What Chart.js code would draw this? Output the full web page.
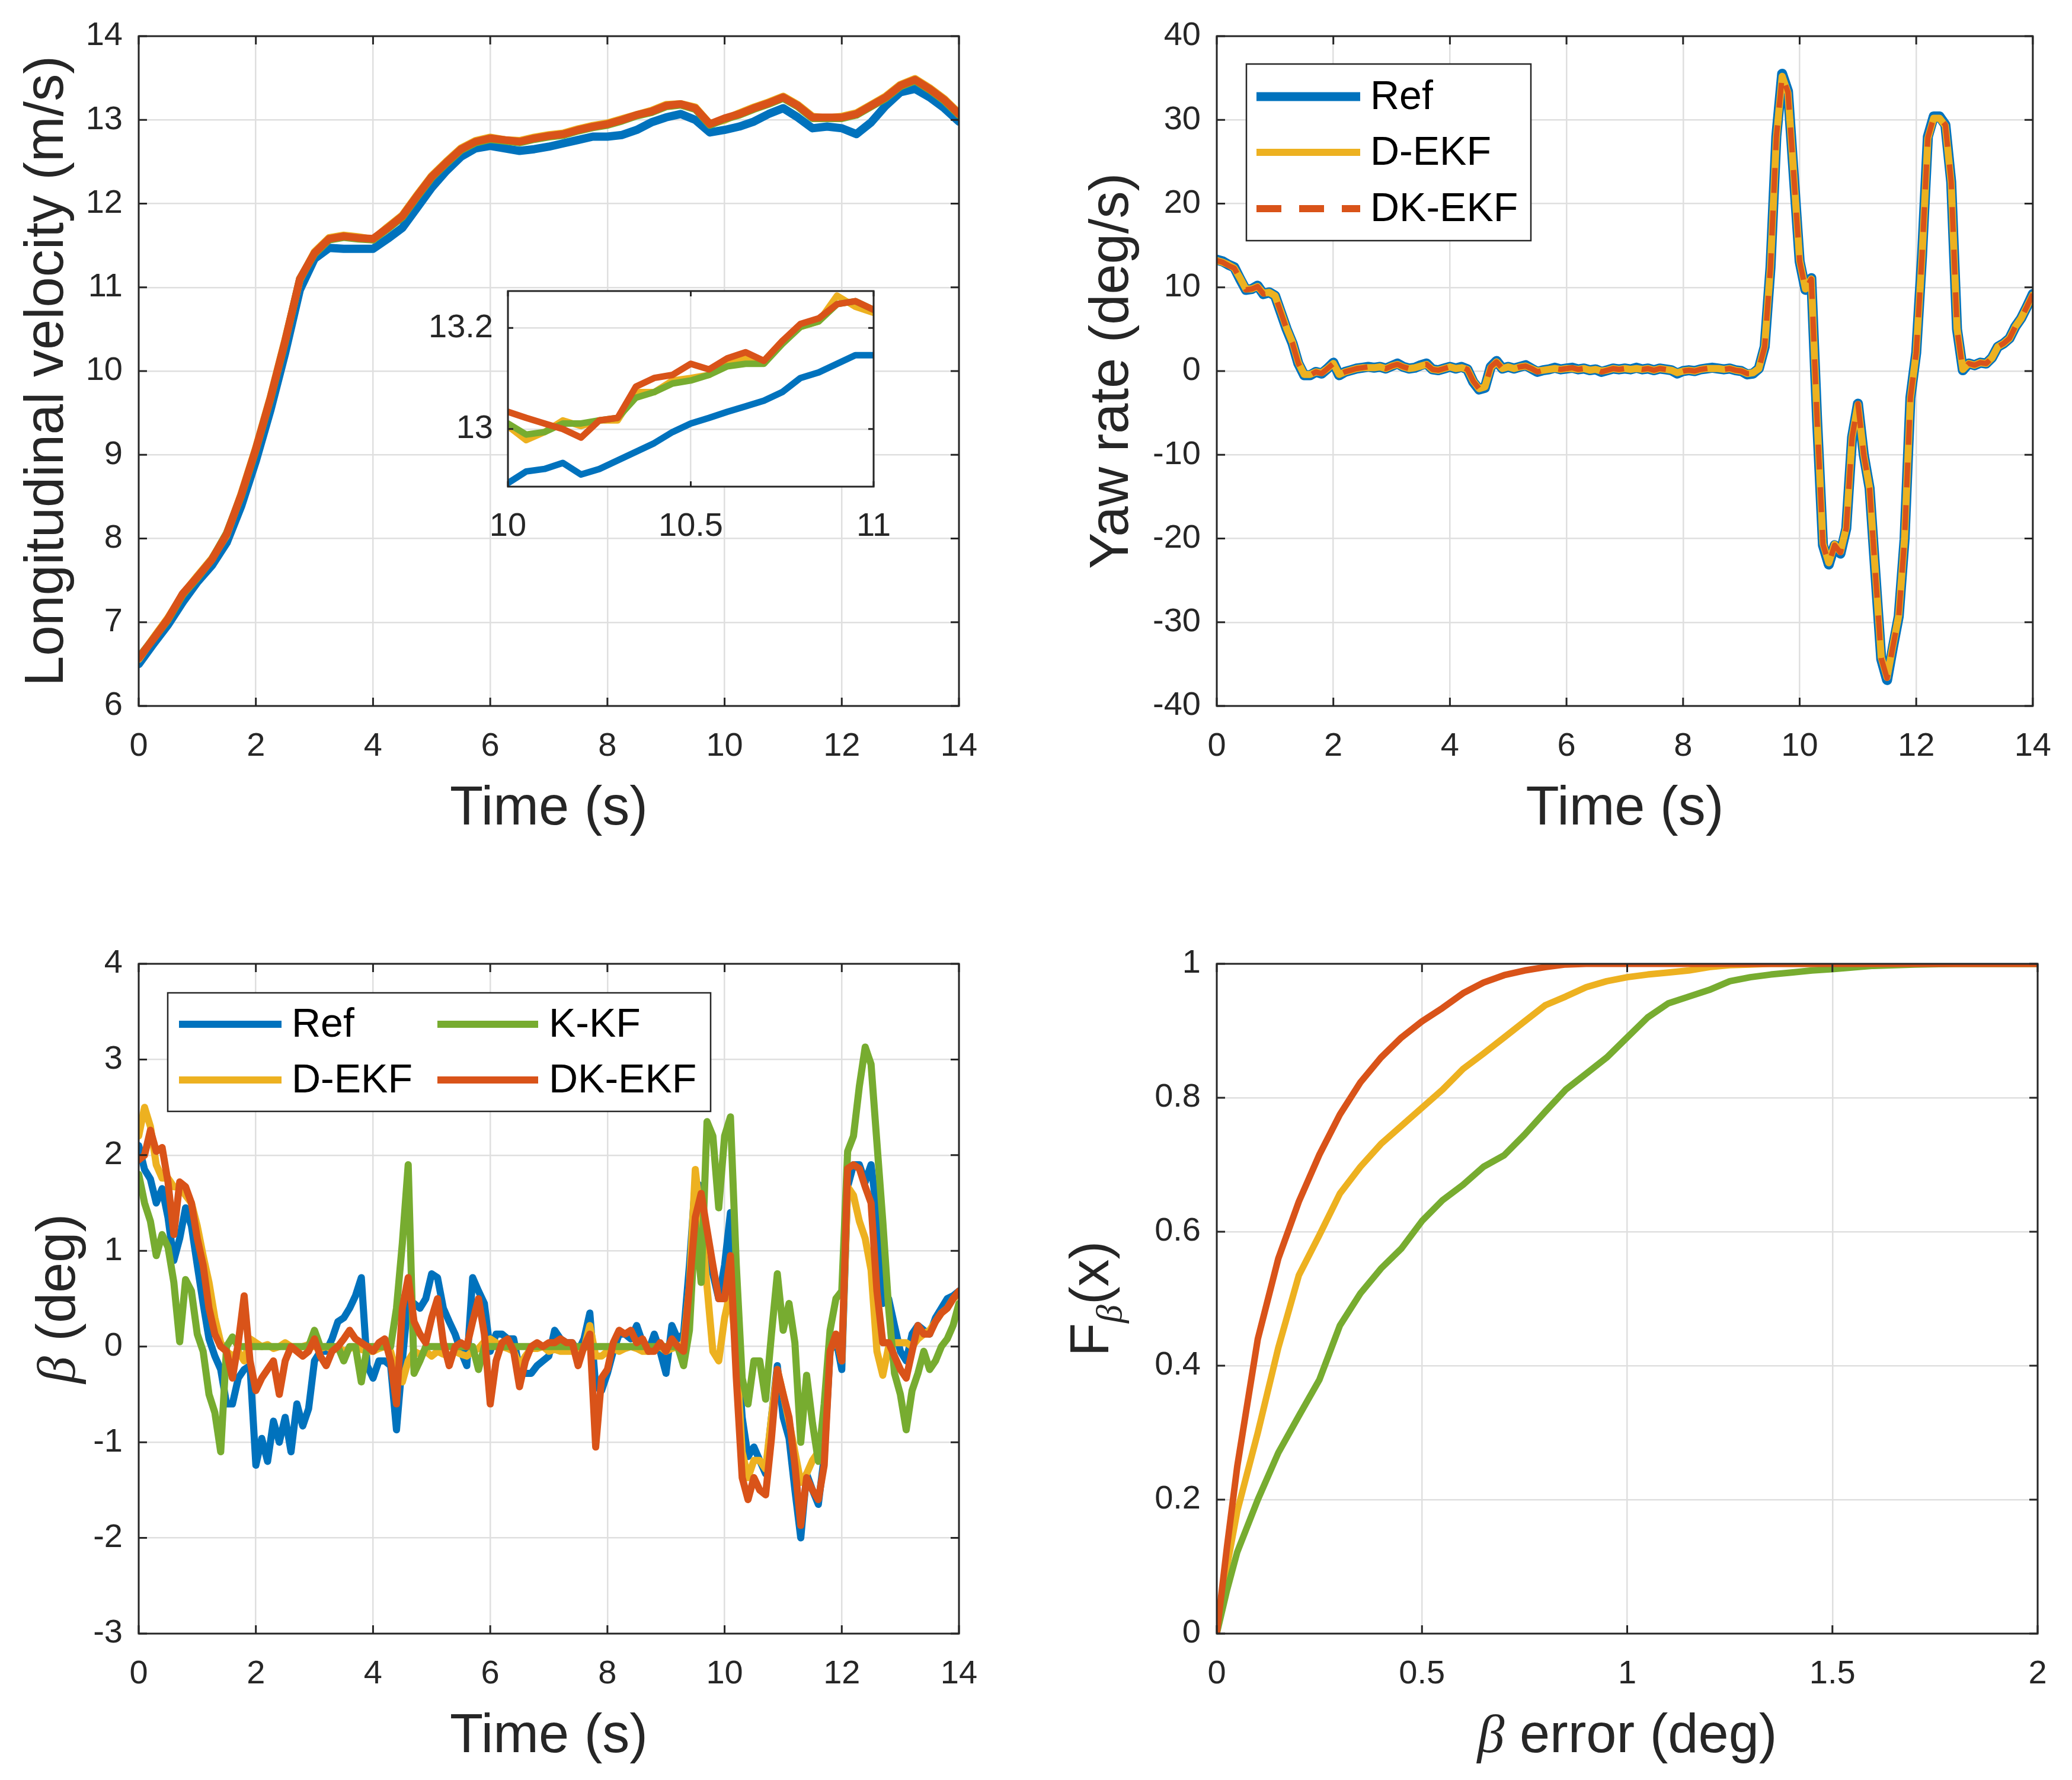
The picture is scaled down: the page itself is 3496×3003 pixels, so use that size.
<!DOCTYPE html>
<html>
<head>
<meta charset="utf-8">
<script src="https://cdn.jsdelivr.net/npm/chart.js@4.4.1/dist/chart.umd.min.js"></script>
<style>
html, body { margin: 0; padding: 0; background: #fff; }
#page { position: relative; width: 3496px; height: 3003px; background: #fff; overflow: hidden; }
.cell { position: absolute; }
</style>
</head>
<body>
<div id="page">
  <div class="cell" style="left:0;top:0;width:1748px;height:1500px"><canvas id="cVel" width="1748" height="1500"></canvas></div>
  <div class="cell" style="left:650px;top:430px;width:900px;height:520px"><canvas id="cZoom" width="900" height="520"></canvas></div>
  <div class="cell" style="left:1748px;top:0;width:1748px;height:1500px"><canvas id="cYaw" width="1748" height="1500"></canvas></div>
  <div class="cell" style="left:0;top:1500px;width:1748px;height:1503px"><canvas id="cBeta" width="1748" height="1503"></canvas></div>
  <div class="cell" style="left:1748px;top:1500px;width:1748px;height:1503px"><canvas id="cCdf" width="1748" height="1503"></canvas></div>
</div>
<script>
// ---- data ----
var seriesNames = ['Ref', 'D-EKF', 'K-KF', 'DK-EKF'];

// longitudinal velocity (m/s), every 0.25 s
var velTime = [];
for (var i = 0; i <= 56; i++) velTime.push(i * 0.25);
var velRef = [6.5, 6.74, 6.97, 7.24, 7.48, 7.68, 7.95, 8.39, 8.93, 9.54, 10.22, 10.97,
  11.34, 11.47, 11.46, 11.46, 11.46, 11.58, 11.71, 11.95, 12.19, 12.39, 12.56, 12.66,
  12.69, 12.66, 12.63, 12.65, 12.68, 12.72, 12.76, 12.8, 12.8, 12.82, 12.88, 12.97,
  13.03, 13.07, 13.0, 12.85, 12.88, 12.92, 12.98, 13.07, 13.14, 13.03, 12.9, 12.92,
  12.9, 12.83, 12.97, 13.17, 13.33, 13.37, 13.27, 13.14, 12.98];
var velDEKF = [6.56, 6.81, 7.05, 7.33, 7.55, 7.76, 8.04, 8.53, 9.08, 9.69, 10.37, 11.09,
  11.42, 11.59, 11.62, 11.6, 11.57, 11.72, 11.86, 12.1, 12.33, 12.5, 12.66, 12.75,
  12.79, 12.76, 12.75, 12.79, 12.82, 12.84, 12.89, 12.93, 12.96, 13.01, 13.06, 13.11,
  13.18, 13.19, 13.15, 12.95, 13.0, 13.08, 13.15, 13.21, 13.28, 13.18, 13.04, 13.02,
  13.04, 13.08, 13.18, 13.28, 13.42, 13.49, 13.38, 13.25, 13.08];
var velKKF = [6.58, 6.8, 7.03, 7.33, 7.53, 7.75, 8.06, 8.51, 9.06, 9.67, 10.35, 11.1,
  11.4, 11.57, 11.6, 11.58, 11.57, 11.7, 11.84, 12.08, 12.31, 12.48, 12.64, 12.73,
  12.77, 12.75, 12.73, 12.77, 12.8, 12.82, 12.87, 12.91, 12.94, 12.99, 13.05, 13.09,
  13.16, 13.18, 13.13, 12.94, 13.01, 13.06, 13.13, 13.19, 13.26, 13.16, 13.02, 13.02,
  13.02, 13.06, 13.16, 13.26, 13.4, 13.47, 13.36, 13.23, 13.06];
var velDKEKF = [6.57, 6.8, 7.04, 7.34, 7.54, 7.75, 8.05, 8.52, 9.07, 9.68, 10.36, 11.1,
  11.41, 11.58, 11.61, 11.59, 11.58, 11.71, 11.85, 12.09, 12.32, 12.49, 12.65, 12.74,
  12.78, 12.76, 12.74, 12.78, 12.81, 12.83, 12.88, 12.92, 12.95, 13.0, 13.06, 13.1,
  13.17, 13.19, 13.14, 12.95, 13.02, 13.07, 13.14, 13.2, 13.27, 13.17, 13.03, 13.03,
  13.03, 13.07, 13.17, 13.27, 13.41, 13.48, 13.37, 13.24, 13.07];

// zoomed inset, 10 s to 11 s every 0.05 s
var zoomTime = [];
for (var i = 0; i <= 20; i++) zoomTime.push(10 + i * 0.05);
var zoomRef = [12.893, 12.916, 12.921, 12.933, 12.91, 12.921, 12.938, 12.955, 12.972, 12.994, 13.011,
  13.022, 13.034, 13.045, 13.056, 13.073, 13.101, 13.112, 13.129, 13.146, 13.146];
var zoomDEKF = [13.006, 12.978, 12.994, 13.017, 13.006, 13.017, 13.017, 13.073, 13.073, 13.096, 13.101,
  13.107, 13.129, 13.14, 13.135, 13.174, 13.202, 13.213, 13.264, 13.242, 13.23];
var zoomKKF = [13.011, 12.989, 12.994, 13.011, 13.011, 13.017, 13.022, 13.062, 13.073, 13.09, 13.096,
  13.107, 13.124, 13.129, 13.129, 13.168, 13.202, 13.213, 13.247, 13.253, 13.236];
var zoomDKEKF = [13.034, 13.022, 13.011, 13.0, 12.983, 13.017, 13.022, 13.084, 13.101, 13.107, 13.129,
  13.118, 13.14, 13.152, 13.135, 13.174, 13.208, 13.219, 13.247, 13.253, 13.236];

// yaw rate (deg/s) and sideslip beta (deg), every 0.1 s
var time = [];
for (var i = 0; i <= 140; i++) time.push(i / 10);
var yawRef = [13.3, 13.1, 12.7, 12.4, 11.0, 9.7, 9.8, 10.2, 9.2, 9.4,
  9.0, 7.0, 5.0, 3.3, 0.9, -0.5, -0.5, -0.1, -0.3, 0.3,
  1.0, -0.5, -0.1, 0.1, 0.3, 0.4, 0.5, 0.4, 0.5, 0.3,
  0.6, 0.9, 0.5, 0.3, 0.4, 0.7, 0.9, 0.2, 0.1, 0.3,
  0.5, 0.3, 0.5, 0.2, -1.3, -2.2, -2.0, 0.5, 1.2, 0.3,
  0.5, 0.3, 0.5, 0.7, 0.3, -0.1, 0.1, 0.2, 0.4, 0.2,
  0.3, 0.4, 0.2, 0.3, 0.1, 0.2, -0.1, 0.1, 0.3, 0.2,
  0.3, 0.2, 0.4, 0.2, 0.3, 0.1, 0.3, 0.2, 0.1, -0.3,
  0.0, 0.1, 0.0, 0.2, 0.3, 0.4, 0.3, 0.2, 0.3, 0.1,
  0.0, -0.4, -0.3, 0.3, 2.9, 12.4, 28.0, 35.5, 33.4, 23.3,
  13.1, 9.7, 11.1, -5.9, -20.8, -23.1, -20.8, -21.8, -18.8, -7.9,
  -3.9, -10.0, -14.0, -24.2, -34.4, -36.9, -33.0, -29.3, -20.1, -3.2,
  2.2, 13.8, 28.0, 30.4, 30.4, 29.4, 22.6, 5.0, 0.1, 0.9,
  0.7, 1.0, 0.9, 1.6, 2.9, 3.3, 3.9, 5.3, 6.3, 7.7,
  9.2];
var yawDEKF = [13.2, 13.0, 12.7, 12.3, 11.1, 9.8, 9.8, 10.1, 9.3, 9.4,
  9.0, 7.1, 5.1, 3.4, 1.0, -0.4, -0.4, -0.1, -0.2, 0.3,
  0.9, -0.4, -0.1, 0.1, 0.3, 0.4, 0.4, 0.4, 0.5, 0.3,
  0.6, 0.8, 0.5, 0.3, 0.4, 0.6, 0.8, 0.2, 0.1, 0.3,
  0.5, 0.3, 0.4, 0.2, -1.2, -2.1, -1.9, 0.4, 1.1, 0.3,
  0.5, 0.3, 0.5, 0.6, 0.3, 0.0, 0.1, 0.2, 0.3, 0.2,
  0.3, 0.3, 0.2, 0.3, 0.1, 0.2, 0.0, 0.1, 0.3, 0.2,
  0.3, 0.2, 0.3, 0.2, 0.3, 0.1, 0.3, 0.2, 0.1, -0.2,
  0.0, 0.1, 0.0, 0.2, 0.3, 0.3, 0.3, 0.2, 0.3, 0.1,
  0.0, -0.3, -0.2, 0.3, 3.0, 12.5, 27.8, 35.2, 33.2, 23.4,
  13.2, 9.8, 11.0, -5.8, -20.6, -22.9, -20.7, -21.6, -18.7, -7.9,
  -4.0, -10.0, -14.0, -24.1, -34.2, -36.6, -32.8, -29.2, -20.0, -3.3,
  2.2, 13.7, 27.8, 30.2, 30.2, 29.3, 22.5, 5.1, 0.2, 0.9,
  0.7, 1.0, 0.9, 1.6, 2.9, 3.3, 3.9, 5.3, 6.3, 7.7,
  9.1];
var yawDKEKF = [13.2, 13.0, 12.6, 12.3, 11.0, 9.7, 9.8, 10.1, 9.2, 9.4,
  9.0, 7.0, 5.0, 3.3, 0.9, -0.4, -0.5, -0.1, -0.3, 0.3,
  0.9, -0.4, -0.1, 0.1, 0.3, 0.4, 0.5, 0.4, 0.5, 0.3,
  0.6, 0.8, 0.5, 0.3, 0.4, 0.7, 0.8, 0.2, 0.1, 0.3,
  0.5, 0.3, 0.5, 0.2, -1.2, -2.1, -2.0, 0.5, 1.1, 0.3,
  0.5, 0.3, 0.5, 0.6, 0.3, -0.1, 0.1, 0.2, 0.3, 0.2,
  0.3, 0.4, 0.2, 0.3, 0.1, 0.2, -0.1, 0.1, 0.3, 0.2,
  0.3, 0.2, 0.3, 0.2, 0.3, 0.1, 0.3, 0.2, 0.1, -0.2,
  0.0, 0.1, 0.0, 0.2, 0.3, 0.4, 0.3, 0.2, 0.3, 0.1,
  0.0, -0.3, -0.3, 0.3, 2.9, 12.4, 27.9, 35.3, 33.3, 23.3,
  13.1, 9.7, 11.0, -5.9, -20.7, -23.0, -20.8, -21.7, -18.8, -7.9,
  -3.9, -10.0, -14.0, -24.2, -34.3, -36.7, -32.9, -29.3, -20.1, -3.2,
  2.2, 13.8, 27.9, 30.3, 30.3, 29.4, 22.6, 5.0, 0.1, 0.9,
  0.7, 1.0, 0.9, 1.6, 2.9, 3.3, 3.9, 5.3, 6.3, 7.7,
  9.2];

var betaRef = [2.1, 1.85, 1.75, 1.5, 1.65, 1.35, 0.9, 1.13, 1.45, 1.26,
  0.85, 0.45, 0.08, -0.1, -0.24, -0.6, -0.6, -0.33, -0.24, -0.2,
  -1.24, -0.96, -1.2, -0.78, -1.0, -0.74, -1.1, -0.6, -0.83, -0.65,
  -0.15, -0.05, -0.05, 0.08, 0.26, 0.3, 0.4, 0.53, 0.72, -0.2,
  -0.33, -0.15, -0.15, -0.2, -0.87, -0.15, 0.5, 0.45, 0.4, 0.5,
  0.76, 0.72, 0.4, 0.26, 0.13, -0.05, -0.2, 0.72, 0.58, 0.45,
  -0.05, 0.13, 0.13, 0.08, 0.08, -0.24, -0.28, -0.28, -0.2, -0.15,
  -0.1, 0.17, 0.08, 0.04, 0.04, -0.05, 0.08, 0.35, -0.42, -0.46,
  -0.28, -0.05, 0.13, 0.13, 0.08, 0.22, 0.04, -0.05, 0.13, -0.05,
  -0.28, 0.22, 0.08, 0.13, 0.85, 1.72, 1.67, 0.9, 0.76, 0.5,
  0.85, 1.4, 0.13, -0.74, -1.15, -1.05, -1.19, -1.33, -0.74, -0.2,
  -0.74, -0.96, -1.5, -2.0, -1.33, -1.5, -1.65, -1.15, -0.05, 0.08,
  -0.24, 1.67, 1.9, 1.9, 1.72, 1.9, 1.4, 0.45, 0.5, 0.22,
  -0.05, -0.15, 0.13, 0.22, 0.17, 0.13, 0.3, 0.4, 0.5, 0.53,
  0.58];
var betaDEKF = [2.2, 2.5, 2.3, 1.9, 1.76, 1.76, 1.67, 1.67, 1.58, 1.5,
  1.26, 0.95, 0.67, 0.3, 0.04, -0.05, -0.1, -0.05, -0.15, 0.08,
  0.04, 0.0, 0.02, -0.02, 0.0, 0.04, 0.0, -0.02, 0.0, 0.02,
  0.0, -0.02, 0.0, -0.03, 0.0, -0.05, -0.02, 0.0, -0.03, -0.05,
  -0.05, -0.02, 0.0, -0.05, -0.28, -0.37, -0.15, -0.05, -0.08, -0.05,
  -0.1, -0.05, -0.08, -0.1, -0.05, -0.08, -0.1, -0.05, -0.02, 0.05,
  0.08, 0.04, 0.0, -0.02, -0.05, -0.2, -0.1, -0.02, -0.02, 0.0,
  -0.05, -0.03, -0.05, -0.05, -0.05, -0.07, -0.02, 0.22, -0.1, -0.1,
  -0.05, -0.02, -0.05, -0.02, 0.0, -0.02, -0.05, -0.05, -0.03, 0.0,
  -0.05, -0.02, 0.0, 0.02, 0.63, 1.85, 1.3, 0.63, -0.05, -0.15,
  0.3, 0.58, -0.05, -1.1, -1.37, -1.19, -1.19, -1.28, -0.74, -0.24,
  -0.5, -0.78, -1.1, -1.42, -1.33, -1.19, -1.1, -1.0, -0.05, 0.13,
  -0.15, 1.67, 1.58, 1.31, 1.13, 0.8, -0.05, -0.3, 0.0, 0.04,
  0.04, 0.04, 0.0, 0.08, 0.13, 0.17, 0.26, 0.35, 0.4, 0.5,
  0.55];
var betaKKF = [1.8, 1.5, 1.31, 0.95, 1.17, 1.04, 0.67, 0.05, 0.7, 0.58,
  0.13, -0.05, -0.5, -0.69, -1.1, 0.0, 0.1, 0.0, 0.0, 0.0,
  0.0, 0.0, 0.0, 0.0, 0.0, 0.0, 0.0, 0.0, 0.0, 0.0,
  0.17, 0.0, 0.0, 0.0, 0.0, -0.15, 0.0, 0.0, -0.37, 0.0,
  0.0, 0.0, 0.0, 0.0, 0.4, 1.08, 1.9, -0.28, -0.15, 0.0,
  0.0, 0.0, 0.0, 0.0, 0.0, 0.0, 0.0, 0.0, -0.24, 0.0,
  0.0, 0.0, 0.0, 0.0, 0.0, 0.0, 0.0, 0.0, 0.0, 0.0,
  0.0, 0.0, 0.0, 0.0, 0.0, 0.0, 0.0, 0.0, 0.0, 0.0,
  0.0, 0.0, 0.0, 0.0, 0.0, 0.0, 0.0, 0.0, 0.0, 0.0,
  0.0, 0.0, 0.0, -0.2, 0.17, 1.31, 0.67, 2.35, 2.2, 1.45,
  2.2, 2.4, 0.85, -0.33, -0.6, -0.15, -0.15, -0.55, 0.13, 0.76,
  0.17, 0.45, 0.04, -1.0, -0.3, -0.8, -1.2, -0.6, 0.17, 0.5,
  0.58, 2.04, 2.2, 2.72, 3.13, 2.95, 2.13, 1.31, 0.4, -0.28,
  -0.5, -0.87, -0.46, -0.28, -0.05, -0.24, -0.15, 0.0, 0.08, 0.22,
  0.45];
var betaDKEKF = [1.95, 2.0, 2.26, 2.04, 2.08, 1.72, 1.17, 1.72, 1.67, 1.5,
  1.13, 0.85, 0.4, 0.13, 0.0, -0.05, -0.33, 0.04, 0.53, -0.15,
  -0.46, -0.33, -0.24, -0.15, -0.5, -0.15, 0.0, -0.05, -0.1, -0.05,
  0.08, -0.1, -0.2, -0.05, 0.0, 0.08, 0.17, 0.08, 0.04, 0.0,
  -0.05, 0.04, 0.08, -0.15, -0.6, 0.4, 0.72, 0.26, 0.13, 0.04,
  0.3, 0.5, 0.04, -0.2, 0.0, 0.04, 0.0, 0.26, 0.5, 0.13,
  -0.6, -0.15, 0.04, 0.08, -0.05, -0.42, -0.15, 0.0, 0.04, 0.0,
  0.04, 0.04, 0.08, 0.04, 0.04, -0.2, 0.0, 0.13, -1.05, -0.33,
  -0.24, 0.04, 0.17, 0.13, 0.17, 0.04, 0.08, -0.05, -0.05, 0.04,
  -0.05, 0.08, 0.0, -0.05, 0.63, 1.35, 1.6, 1.22, 0.85, 0.5,
  0.5, 0.95, -0.33, -1.37, -1.6, -1.37, -1.5, -1.55, -0.96, -0.24,
  -0.5, -0.74, -1.24, -1.87, -1.37, -1.5, -1.6, -1.24, -0.05, 0.13,
  -0.15, 1.86, 1.9, 1.86, 1.67, 1.5, 0.58, 0.04, 0.04, -0.1,
  -0.24, -0.33, -0.05, 0.22, 0.13, 0.13, 0.26, 0.35, 0.4, 0.5,
  0.58];

// empirical CDF of the beta error
var errX = [0, 0.025, 0.05, 0.1, 0.15, 0.2, 0.25, 0.3, 0.35, 0.4, 0.45, 0.5, 0.55, 0.6, 0.65,
  0.7, 0.75, 0.8, 0.85, 0.9, 0.95, 1.0, 1.05, 1.1, 1.15, 1.2, 1.25, 1.3, 1.35, 1.4, 1.45,
  1.5, 1.6, 1.7, 1.8, 1.9, 2.0];
var cdfDEKF = [0, 0.1, 0.183, 0.3, 0.427, 0.535, 0.595, 0.657, 0.697, 0.731, 0.758, 0.785, 0.812,
  0.843, 0.866, 0.89, 0.914, 0.938, 0.951, 0.965, 0.974, 0.98, 0.984, 0.987, 0.99, 0.995,
  0.998, 0.999, 1, 1, 1, 1, 1, 1, 1, 1, 1];
var cdfKKF = [0, 0.065, 0.122, 0.2, 0.27, 0.325, 0.379, 0.46, 0.508, 0.545, 0.575, 0.616, 0.647,
  0.67, 0.697, 0.714, 0.745, 0.779, 0.812, 0.836, 0.86, 0.89, 0.92, 0.941, 0.951, 0.961,
  0.974, 0.98, 0.984, 0.987, 0.99, 0.992, 0.997, 0.999, 1, 1, 1];
var cdfDKEKF = [0, 0.13, 0.25, 0.44, 0.56, 0.645, 0.715, 0.775, 0.823, 0.86, 0.89, 0.914, 0.934,
  0.956, 0.972, 0.983, 0.99, 0.995, 0.999, 1, 1, 1, 1, 1, 1, 1, 1, 1, 1, 1, 1, 1, 1, 1, 1, 1, 1];

// tick labels
var timeTicks = [0, 2, 4, 6, 8, 10, 12, 14];
var velTicks = [6, 7, 8, 9, 10, 11, 12, 13, 14];
var yawTicks = [-40, -30, -20, -10, 0, 10, 20, 30, 40];
var betaTicks = [-3, -2, -1, 0, 1, 2, 3, 4];
var errTicks = [0, 0.5, 1, 1.5, 2];
var cdfTicks = [0, 0.2, 0.4, 0.6, 0.8, 1];
var zoomXTicks = [10, 10.5, 11];
var zoomYTicks = [13, 13.2];

// ---- styling ----
var SANS = '"Liberation Sans", Arial, Helvetica, sans-serif';
var SERIF = '"Liberation Serif", "DejaVu Serif", serif';
var INK = '#262626';
var GRID = '#dfdfdf';
var BLUE = '#0072BD', ORANGE = '#D95319', YELLOW = '#EDB120', GREEN = '#77AC30';

Chart.defaults.font.family = SANS;
Chart.defaults.color = INK;

function pts(xs, ys) {
  return xs.map(function (x, i) { return { x: x, y: ys[i] }; });
}

// later datasets are drawn on top, as in MATLAB
function line(label, xs, ys, color, width, order, dash) {
  return {
    label: label,
    data: pts(xs, ys),
    order: -order,
    borderColor: color,
    borderWidth: width,
    borderDash: dash || [],
    borderJoinStyle: 'round',
    borderCapStyle: dash ? 'butt' : 'round',
    pointRadius: 0,
    fill: false,
    tension: 0
  };
}

function axis(min, max, tickList, size, horizontal, pad) {
  return {
    type: 'linear',
    min: min,
    max: max,
    afterBuildTicks: function (s) { s.ticks = tickList.map(function (v) { return { value: v }; }); },
    afterFit: function (s) { if (horizontal) s.height = size; else s.width = size; },
    grid: { color: GRID, lineWidth: 2.5, drawTicks: false },
    border: { display: false },
    title: { display: false },
    ticks: {
      autoSkip: false, maxRotation: 0, padding: pad, color: INK,
      font: { family: SANS, size: 56 },
      callback: function (v) { return String(v); }
    }
  };
}

// box round the axes with inward ticks on all four sides
function framePlugin(len, whiteBack) {
  return {
    id: 'frame',
    beforeDraw: function (chart) {
      if (!whiteBack) return;
      var a = chart.chartArea, ctx = chart.ctx;
      ctx.save();
      ctx.fillStyle = '#fff';
      ctx.fillRect(a.left, a.top, a.right - a.left, a.bottom - a.top);
      ctx.restore();
    },
    afterDatasetsDraw: function (chart) {
      var a = chart.chartArea, ctx = chart.ctx, sx = chart.scales.x, sy = chart.scales.y;
      ctx.save();
      ctx.strokeStyle = INK;
      ctx.lineWidth = 3;
      ctx.beginPath();
      sx.ticks.forEach(function (t) {
        var p = sx.getPixelForValue(t.value);
        ctx.moveTo(p, a.bottom); ctx.lineTo(p, a.bottom - len);
        ctx.moveTo(p, a.top); ctx.lineTo(p, a.top + len);
      });
      sy.ticks.forEach(function (t) {
        var p = sy.getPixelForValue(t.value);
        ctx.moveTo(a.left, p); ctx.lineTo(a.left + len, p);
        ctx.moveTo(a.right, p); ctx.lineTo(a.right - len, p);
      });
      ctx.stroke();
      ctx.strokeRect(a.left, a.top, a.right - a.left, a.bottom - a.top);
      ctx.restore();
    }
  };
}

function drawRuns(ctx, runs, cx, base) {
  var w = 0;
  runs.forEach(function (r) { ctx.font = r.font; r.w = ctx.measureText(r.text).width; w += r.w; });
  var x = cx - w / 2;
  runs.forEach(function (r) {
    ctx.font = r.font;
    ctx.fillText(r.text, x, base + (r.dy || 0));
    x += r.w;
  });
}

// axis titles with mixed fonts (italic beta, subscripts)
function titlePlugin(xRuns, xOff, yRuns, yOff) {
  return {
    id: 'titles',
    afterDraw: function (chart) {
      var a = chart.chartArea, ctx = chart.ctx;
      ctx.save();
      ctx.fillStyle = INK;
      ctx.textBaseline = 'alphabetic';
      ctx.textAlign = 'left';
      if (xRuns) drawRuns(ctx, xRuns, (a.left + a.right) / 2, a.bottom + xOff);
      if (yRuns) {
        ctx.translate(a.left - yOff, (a.top + a.bottom) / 2);
        ctx.rotate(-Math.PI / 2);
        drawRuns(ctx, yRuns, 0, 0);
      }
      ctx.restore();
    }
  };
}

// boxed legend placed inside the axes
function legendPlugin(box, items, size) {
  return {
    id: 'boxLegend',
    afterDraw: function (chart) {
      var ctx = chart.ctx;
      ctx.save();
      ctx.fillStyle = '#fff';
      ctx.fillRect(box[0], box[1], box[2], box[3]);
      ctx.strokeStyle = INK;
      ctx.lineWidth = 2.5;
      ctx.strokeRect(box[0], box[1], box[2], box[3]);
      items.forEach(function (it) {
        var ds = chart.data.datasets[it.ds];
        ctx.beginPath();
        ctx.setLineDash(ds.borderDash || []);
        ctx.lineCap = 'butt';
        ctx.strokeStyle = ds.borderColor;
        ctx.lineWidth = it.w || ds.borderWidth;
        ctx.moveTo(it.x1, it.y);
        ctx.lineTo(it.x2, it.y);
        ctx.stroke();
        ctx.setLineDash([]);
        ctx.fillStyle = '#000';
        ctx.font = size + 'px ' + SANS;
        ctx.textBaseline = 'middle';
        ctx.textAlign = 'left';
        ctx.fillText(ds.label, it.tx, it.y + 2);
      });
      ctx.restore();
    }
  };
}

function base(pad) {
  return {
    responsive: false,
    devicePixelRatio: 1,
    animation: false,
    events: [],
    layout: { padding: pad },
    plugins: { legend: { display: false }, tooltip: { enabled: false }, title: { display: false } }
  };
}

var T92 = '92px ' + SANS;
var timeTitle = [{ text: 'Time (s)', font: T92 }];

// ---- top left: longitudinal velocity ----
var optVel = base({ left: 34, top: 61, right: 130, bottom: 159 });
optVel.scales = { x: axis(0, 14, timeTicks, 150, true, 35), y: axis(6, 14, velTicks, 200, false, 27) };
new Chart(document.getElementById('cVel'), {
  type: 'line',
  data: { datasets: [
    line(seriesNames[0], velTime, velRef, BLUE, 14, 0),
    line(seriesNames[1], velTime, velDEKF, YELLOW, 13, 1),
    line(seriesNames[2], velTime, velKKF, GREEN, 13, 2),
    line(seriesNames[3], velTime, velDKEKF, ORANGE, 13, 3)
  ] },
  options: optVel,
  plugins: [framePlugin(14, false), titlePlugin(timeTitle, 200, [{ text: 'Longitudinal velocity (m/s)', font: T92 }], 128)]
});

// inset
var optZoom = base({ left: 57, top: 61, right: 76, bottom: 29 });
optZoom.scales = { x: axis(10, 11, zoomXTicks, 100, true, 34), y: axis(12.886, 13.273, zoomYTicks, 150, false, 25) };
new Chart(document.getElementById('cZoom'), {
  type: 'line',
  data: { datasets: [
    line(seriesNames[0], zoomTime, zoomRef, BLUE, 11, 0),
    line(seriesNames[1], zoomTime, zoomDEKF, YELLOW, 11, 1),
    line(seriesNames[2], zoomTime, zoomKKF, GREEN, 11, 2),
    line(seriesNames[3], zoomTime, zoomDKEKF, ORANGE, 11, 3)
  ] },
  options: optZoom,
  plugins: [framePlugin(9, true)]
});

// ---- top right: yaw rate ----
var optYaw = base({ left: 105, top: 61, right: 58, bottom: 159 });
optYaw.scales = { x: axis(0, 14, timeTicks, 150, true, 35), y: axis(-40, 40, yawTicks, 200, false, 27) };
new Chart(document.getElementById('cYaw'), {
  type: 'line',
  data: { datasets: [
    line(seriesNames[0], time, yawRef, BLUE, 17, 0),
    line(seriesNames[1], time, yawDEKF, YELLOW, 12, 1),
    line(seriesNames[3], time, yawDKEKF, ORANGE, 9, 2, [42, 30])
  ] },
  options: optYaw,
  plugins: [
    framePlugin(14, false),
    titlePlugin(timeTitle, 200, [{ text: 'Yaw rate (deg/s)', font: T92 }], 150),
    legendPlugin([355, 108, 480, 298], [
      { ds: 0, x1: 372, x2: 547, tx: 564, y: 163, w: 15 },
      { ds: 1, x1: 372, x2: 547, tx: 564, y: 257, w: 12 },
      { ds: 2, x1: 372, x2: 547, tx: 564, y: 352, w: 12 }
    ], 68)
  ]
});

// ---- bottom left: sideslip angle ----
var optBeta = base({ left: 34, top: 126, right: 130, bottom: 97 });
optBeta.scales = { x: axis(0, 14, timeTicks, 150, true, 35), y: axis(-3, 4, betaTicks, 200, false, 27) };
new Chart(document.getElementById('cBeta'), {
  type: 'line',
  data: { datasets: [
    line(seriesNames[0], time, betaRef, BLUE, 12, 0),
    line(seriesNames[1], time, betaDEKF, YELLOW, 12, 1),
    line(seriesNames[2], time, betaKKF, GREEN, 12, 2),
    line(seriesNames[3], time, betaDKEKF, ORANGE, 12, 3)
  ] },
  options: optBeta,
  plugins: [
    framePlugin(14, false),
    titlePlugin(timeTitle, 200, [
      { text: 'β', font: 'italic 92px ' + SERIF },
      { text: ' (deg)', font: T92 }
    ], 108),
    legendPlugin([283, 175, 916, 200], [
      { ds: 0, x1: 302, x2: 475, tx: 492, y: 228 },
      { ds: 1, x1: 302, x2: 475, tx: 492, y: 322 },
      { ds: 2, x1: 738, x2: 908, tx: 926, y: 228 },
      { ds: 3, x1: 738, x2: 908, tx: 926, y: 322 }
    ], 68)
  ]
});

// ---- bottom right: CDF of beta error ----
var optCdf = base({ left: 105, top: 126, right: 58, bottom: 97 });
optCdf.scales = { x: axis(0, 2, errTicks, 150, true, 35), y: axis(0, 1, cdfTicks, 200, false, 27) };
new Chart(document.getElementById('cCdf'), {
  type: 'line',
  data: { datasets: [
    line(seriesNames[1], errX, cdfDEKF, YELLOW, 11, 0),
    line(seriesNames[2], errX, cdfKKF, GREEN, 11, 1),
    line(seriesNames[3], errX, cdfDKEKF, ORANGE, 11, 2)
  ] },
  options: optCdf,
  plugins: [
    framePlugin(14, false),
    titlePlugin([
      { text: 'β', font: 'italic 92px ' + SERIF },
      { text: ' error (deg)', font: T92 }
    ], 200, [
      { text: 'F', font: T92 },
      { text: 'β', font: 'italic 62px ' + SERIF, dy: 22 },
      { text: '(x)', font: T92 }
    ], 183)
  ]
});
</script>
</body>
</html>
